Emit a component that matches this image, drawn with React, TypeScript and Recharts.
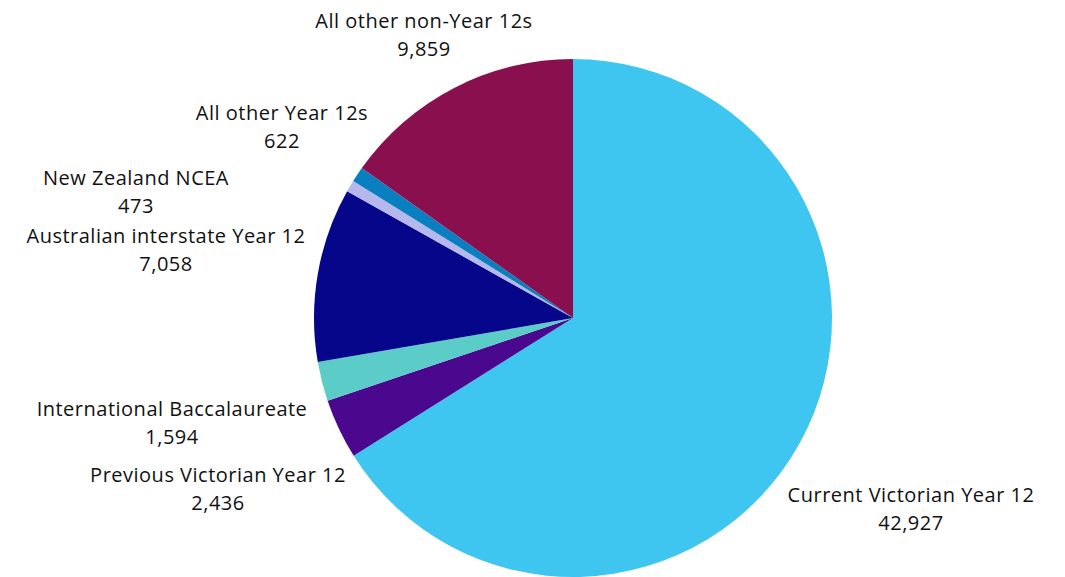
import { Pie, PieChart, Cell } from "recharts";

const CATEGORIES = [
  "Current Victorian Year 12",
  "Previous Victorian Year 12",
  "International Baccalaureate",
  "Australian interstate Year 12",
  "New Zealand NCEA",
  "All other Year 12s",
  "All other non-Year 12s",
];

const VALUES = [42927, 2436, 1594, 7058, 473, 622, 9859];

const COLORS = [
  "#3EC6F0",
  "#4A088F",
  "#5CCCC8",
  "#06068A",
  "#B5B8EC",
  "#0A7FC0",
  "#8A0F4E",
];

// label anchor (centre x, first-line baseline y)
const LABEL_POS = [
  { x: 911, y: 502 },
  { x: 218, y: 482 },
  { x: 172, y: 416 },
  { x: 166, y: 243 },
  { x: 136, y: 185 },
  { x: 282, y: 120 },
  { x: 424, y: 28 },
];

const data = CATEGORIES.map((name, i) => ({ name, value: VALUES[i] }));

const FONT = "'Open Sans', sans-serif";

function renderLabel(props: any) {
  const pos = LABEL_POS[props.index];
  return (
    <text
      x={pos.x}
      y={pos.y}
      textAnchor="middle"
      fill="#111"
      fontSize={20}
      letterSpacing={0.5}
      fontFamily={FONT}
    >
      <tspan x={pos.x}>{props.name}</tspan>
      <tspan x={pos.x} dy={28}>
        {props.value.toLocaleString("en-US")}
      </tspan>
    </text>
  );
}

export default function App() {
  return (
    <div style={{ width: 1065, height: 577, background: "#fff" }}>
      <style>{"body{margin:0}"}</style>
      <PieChart
        width={1065}
        height={577}
        margin={{ top: 0, right: 0, bottom: 0, left: 0 }}
      >
        <Pie
          data={data}
          dataKey="value"
          nameKey="name"
          cx={573}
          cy={318}
          outerRadius={259}
          startAngle={90}
          endAngle={-270}
          stroke="none"
          label={renderLabel}
          labelLine={false}
          isAnimationActive={false}
        >
          {data.map((entry, i) => (
            <Cell key={entry.name} fill={COLORS[i]} />
          ))}
        </Pie>
      </PieChart>
    </div>
  );
}
